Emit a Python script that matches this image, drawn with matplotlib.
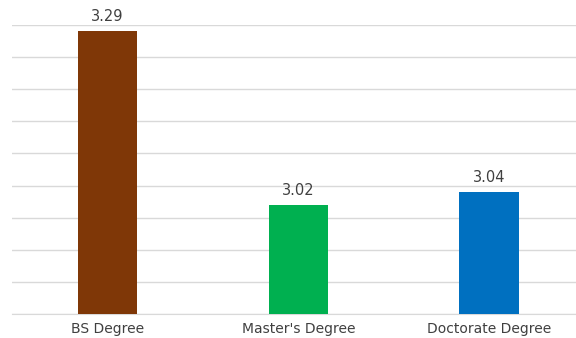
import matplotlib
matplotlib.use("Agg")
import matplotlib.pyplot as plt

categories = ["BS Degree", "Master's Degree", "Doctorate Degree"]
values = [3.29, 3.02, 3.04]
colors = ["#7f3707", "#00b050", "#0070c0"]

plt.rcParams["font.family"] = ["DejaVu Sans"]

fig = plt.figure(figsize=(5.76, 3.38), dpi=100)
ax = fig.add_axes([12 / 576, 24 / 338, 1 - 12 / 576, 289 / 338])

x = list(range(len(categories)))
bars = ax.bar(x, values, width=0.314, color=colors, zorder=3)

ax.set_ylim(2.85, 3.30)
ax.set_xlim(-0.5, 2.453)
ax.set_yticks([2.85 + 0.05 * i for i in range(10)])
ax.yaxis.grid(True, color="#d9d9d9", linewidth=1.0, zorder=0)
ax.tick_params(axis="y", left=False, labelleft=False)
ax.tick_params(axis="x", bottom=False, labelsize=10, labelcolor="#404040", pad=2)
ax.set_xticks(x)
ax.set_xticklabels(categories)

for side in ["top", "right", "left"]:
    ax.spines[side].set_visible(False)
ax.spines["bottom"].set_color("#d9d9d9")

for xi, v in zip(x, values):
    ax.annotate(f"{v:.2f}", (xi, v), xytext=(0, 5), textcoords="offset points",
                ha="center", va="bottom", fontsize=10.5, color="#404040")

fig.savefig("out.png", dpi=100)
